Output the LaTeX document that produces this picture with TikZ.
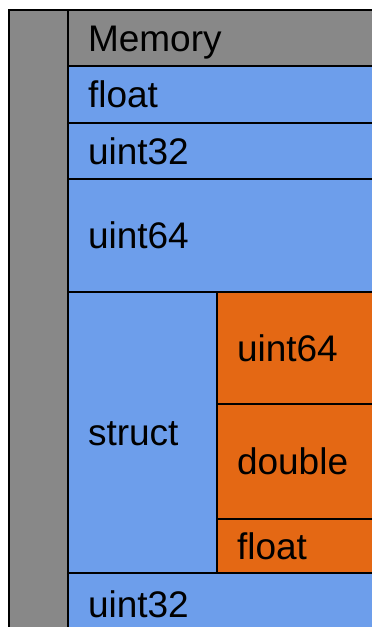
\documentclass[tikz,border=0pt]{standalone}
\usepackage{fontspec}
\setmainfont{Liberation Sans}
\definecolor{memgray}{RGB}{136,136,136}
\definecolor{memblue}{RGB}{109,158,235}
\definecolor{memorange}{RGB}{228,104,20}
\tikzset{
  cell/.style n args={3}{draw=black, line width=2pt, fill=#1, anchor=north west,
    minimum width=#2, minimum height=#3, text width=#2-40pt, inner xsep=20pt,
    align=left, font=\fontsize{37}{40}\selectfont, text height=26pt, text depth=0pt},
}
\begin{document}
\begin{tikzpicture}[x=1pt,y=-1pt]
  \clip (0,0) rectangle (372,627);
  \fill[white] (0,0) rectangle (372,627);
  % left memory bar
  \node[cell={memgray}{59pt}{630pt}] (bar) at (8,9) {};
  % header and top-level fields
  \node[cell={memgray}{320pt}{56pt}] (mem) at (67,9) {Memory};
  \node[cell={memblue}{320pt}{57pt}] (f1) at (67,65) {float};
  \node[cell={memblue}{320pt}{56pt}] (u1) at (67,122) {uint32};
  \node[cell={memblue}{320pt}{113pt}] (u2) at (67,178) {uint64};
  % struct and its members
  \node[cell={memblue}{149pt}{281pt}] (st) at (67,291) {struct};
  \node[cell={memorange}{171pt}{112pt}] (s1) at (216,291) {uint64};
  \node[cell={memorange}{171pt}{115pt}] (s2) at (216,403) {double};
  \node[cell={memorange}{171pt}{54pt}] (s3) at (216,518) {float};
  % trailing field
  \node[cell={memblue}{320pt}{63pt}] (u3) at (67,572) {uint32};
\end{tikzpicture}
\end{document}
